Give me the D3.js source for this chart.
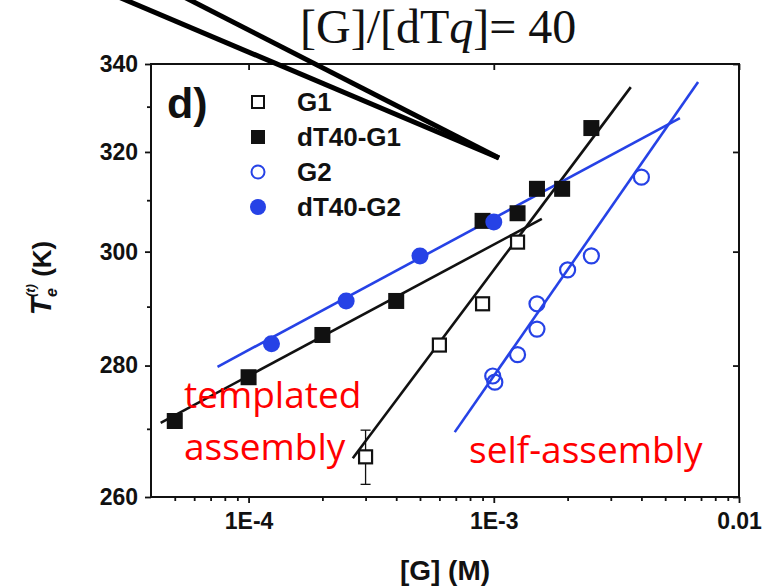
<!DOCTYPE html>
<html>
<head>
<meta charset="utf-8">
<script src="https://cdn.jsdelivr.net/npm/d3@7"></script>
<style>
  body { margin: 0; background: #fff; }
  svg { display: block; }
</style>
</head>
<body>
<div id="chart"></div>
<script>
// data, [G] in M, Te in K
const g1X = [3e-4, 6e-4, 9e-4, 1.25e-3];
const g1T = [265.8, 283.4, 290.5, 301.8];
const g1Err = [4, 0, 0, 0];

const dtG1X = [5e-5, 1e-4, 2e-4, 4e-4, 9e-4, 1.25e-3, 1.5e-3, 1.9e-3, 2.5e-3];
const dtG1T = [271.2, 278.1, 285.1, 291.0, 305.9, 307.4, 312.3, 312.3, 325.2];
const dtG1Err = [0.9, 0.8, 0.7, 0, 0, 0, 0, 0, 0];

const g2X = [0.99e-3, 1.01e-3, 1.25e-3, 1.5e-3, 1.5e-3, 2.0e-3, 2.5e-3, 4.0e-3];
const g2T = [278.3, 277.3, 281.8, 286.1, 290.5, 296.6, 299.2, 314.7];

const dtG2X = [1.24e-4, 2.5e-4, 5e-4, 1e-3];
const dtG2T = [283.6, 291.0, 299.2, 305.7];

// linear fits (end points)
const fitTemplG1 = [[4.38e-5, 270.9], [1.57e-3, 306.3]];
const fitSelfG1 = [[2.66e-4, 265.6], [3.62e-3, 334.5]];
const fitTemplG2 = [[7.47e-5, 279.8], [5.74e-3, 327.4]];
const fitSelfG2 = [[6.93e-4, 269.5], [6.81e-3, 335.7]];

// pointer wedge to the [G]/[dTq] note
const pointerTip = [1.05e-3, 318.7];
const pointerTails = [[2.52e-5, 358.9], [4.79e-5, 358.9]];

const xMajor = [1e-4, 1e-3, 1e-2];
const xMajorLabels = ["1E-4", "1E-3", "0.01"];
const xMinor = [5e-5, 6e-5, 7e-5, 8e-5, 9e-5,
  2e-4, 3e-4, 4e-4, 5e-4, 6e-4, 7e-4, 8e-4, 9e-4,
  2e-3, 3e-3, 4e-3, 5e-3, 6e-3, 7e-3, 8e-3, 9e-3];
const yMajor = [260, 280, 300, 320, 340];
const yMinor = [270, 290, 310, 330];

const legendNames = ["G1", "dT40-G1", "G2", "dT40-G2"];

const W = 783, H = 587;
const blue = "#2642e6";

const svg = d3.select("#chart").append("svg")
    .attr("width", W)
    .attr("height", H);

const x = d3.scaleLog().domain([4e-5, 1e-2]).range([151, 739]);
// y axis is linear in 1/T
const y = d3.scalePow().exponent(-1).domain([260, 340]).range([497, 64]);

// axes
const axisB = svg.append("g").attr("transform", `translate(0,${y(260)})`);
axisB.call(d3.axisBottom(x).tickValues(xMinor).tickSize(4).tickFormat(""));
axisB.append("g").call(d3.axisBottom(x).tickValues(xMajor).tickSize(6).tickPadding(10)
    .tickFormat((d, i) => xMajorLabels[i]));

svg.append("g").attr("transform", `translate(0,${y(340)})`)
    .call(d3.axisBottom(x).tickValues(xMajor).tickSize(6).tickFormat(""));

const axisL = svg.append("g").attr("transform", `translate(${x(4e-5)},0)`);
axisL.call(d3.axisLeft(y).tickValues(yMinor).tickSize(4).tickFormat(""));
axisL.append("g").call(d3.axisLeft(y).tickValues(yMajor).tickSize(6).tickPadding(7)
    .tickFormat(d3.format("d")));

svg.append("g").attr("transform", `translate(${x(1e-2)},0)`)
    .call(d3.axisLeft(y).tickValues(yMajor).tickSize(6).tickFormat(""));

svg.selectAll(".domain").remove();
svg.selectAll(".tick line").attr("stroke", "#111").attr("stroke-width", 1.8);
svg.selectAll(".tick text")
    .attr("fill", "#111")
    .style("font-family", "'Liberation Sans', Arial, sans-serif")
    .style("font-weight", "bold")
    .style("font-size", "23px");

svg.append("rect")
    .attr("x", x(4e-5)).attr("y", y(340))
    .attr("width", x(1e-2) - x(4e-5)).attr("height", y(260) - y(340))
    .attr("fill", "none").attr("stroke", "#111").attr("stroke-width", 2);

// axis titles
svg.append("text")
    .attr("x", (x(4e-5) + x(1e-2)) / 2).attr("y", 580)
    .attr("text-anchor", "middle")
    .style("font-family", "'Liberation Sans', Arial, sans-serif")
    .style("font-weight", "bold").style("font-size", "28px")
    .attr("fill", "#111")
    .text("[G] (M)");

const yt = svg.append("text")
    .attr("transform", "translate(51,278) rotate(-90)")
    .attr("text-anchor", "middle")
    .style("font-family", "'Liberation Sans', Arial, sans-serif")
    .style("font-weight", "bold")
    .attr("fill", "#111");
yt.append("tspan").style("font-style", "italic").style("font-size", "30px").text("T");
yt.append("tspan").style("font-style", "italic").style("font-size", "16px").attr("dy", 6).text("e");
yt.append("tspan").style("font-style", "italic").style("font-size", "13px").attr("dx", -9).attr("dy", -22).text("(t)");
yt.append("tspan").style("font-size", "26px").attr("dy", 16).text(" (K)");

// fit lines
const line = d3.line().x(d => x(d[0])).y(d => y(d[1]));
const fits = [
  { pts: fitTemplG1, color: "#111" },
  { pts: fitSelfG1, color: "#111" },
  { pts: fitTemplG2, color: blue },
  { pts: fitSelfG2, color: blue }
];
svg.append("g").selectAll("path")
    .data(fits)
    .enter().append("path")
    .attr("d", d => line(d.pts))
    .attr("fill", "none")
    .attr("stroke", d => d.color)
    .attr("stroke-width", 2.6);

// error bars
function errorBars(xs, ts, errs) {
  const rows = xs.map((v, i) => ({ x: v, t: ts[i], e: errs[i] })).filter(d => d.e > 0);
  const g = svg.append("g").attr("stroke", "#111").attr("stroke-width", 1.3);
  rows.forEach(d => {
    const cx = x(d.x);
    g.append("line").attr("x1", cx).attr("x2", cx).attr("y1", y(d.t - d.e)).attr("y2", y(d.t + d.e));
    g.append("line").attr("x1", cx - 5).attr("x2", cx + 5).attr("y1", y(d.t - d.e)).attr("y2", y(d.t - d.e));
    g.append("line").attr("x1", cx - 5).attr("x2", cx + 5).attr("y1", y(d.t + d.e)).attr("y2", y(d.t + d.e));
  });
}
errorBars(g1X, g1T, g1Err);
errorBars(dtG1X, dtG1T, dtG1Err);

// markers
function squares(xs, ts, size, fill, stroke, sw) {
  svg.append("g").selectAll("rect")
      .data(xs.map((v, i) => [v, ts[i]]))
      .enter().append("rect")
      .attr("x", d => x(d[0]) - size / 2)
      .attr("y", d => y(d[1]) - size / 2)
      .attr("width", size).attr("height", size)
      .attr("fill", fill).attr("stroke", stroke).attr("stroke-width", sw);
}
function circles(xs, ts, r, fill, stroke, sw) {
  svg.append("g").selectAll("circle")
      .data(xs.map((v, i) => [v, ts[i]]))
      .enter().append("circle")
      .attr("cx", d => x(d[0]))
      .attr("cy", d => y(d[1]))
      .attr("r", r)
      .attr("fill", fill).attr("stroke", stroke).attr("stroke-width", sw);
}
squares(g1X, g1T, 13, "#fff", "#111", 2.2);
squares(dtG1X, dtG1T, 16, "#111", "none", 0);
circles(g2X, g2T, 7.5, "none", blue, 2.2);
circles(dtG2X, dtG2T, 8.5, blue, "none", 0);

// legend
const legend = svg.append("g");
const legRowY = [102, 137, 172, 207];
const legMarkX = 258;
legend.append("rect").attr("x", legMarkX - 6).attr("y", legRowY[0] - 6).attr("width", 12).attr("height", 12)
    .attr("fill", "#fff").attr("stroke", "#111").attr("stroke-width", 2);
legend.append("rect").attr("x", legMarkX - 7).attr("y", legRowY[1] - 7).attr("width", 14).attr("height", 14)
    .attr("fill", "#111");
legend.append("circle").attr("cx", legMarkX).attr("cy", legRowY[2]).attr("r", 6.5)
    .attr("fill", "none").attr("stroke", blue).attr("stroke-width", 2);
legend.append("circle").attr("cx", legMarkX).attr("cy", legRowY[3]).attr("r", 8)
    .attr("fill", blue);
legend.selectAll("text")
    .data(legendNames)
    .enter().append("text")
    .attr("x", 297)
    .attr("y", (d, i) => legRowY[i] + 9)
    .style("font-family", "'Liberation Sans', Arial, sans-serif")
    .style("font-weight", "bold").style("font-size", "26px")
    .attr("fill", "#111")
    .text(d => d);

// panel letter
svg.append("text")
    .attr("x", 167).attr("y", 118)
    .style("font-family", "'Liberation Sans', Arial, sans-serif")
    .style("font-weight", "bold").style("font-size", "43px")
    .attr("fill", "#111")
    .text("d)");

// red annotations
const red = svg.append("g")
    .style("font-family", "'Open Sans', sans-serif")
    .style("font-size", "37px")
    .attr("fill", "#ff0000");
red.append("text").attr("x", 184).attr("y", 408).text("templated");
red.append("text").attr("x", 184).attr("y", 460).text("assembly");
red.append("text").attr("x", 469).attr("y", 463).text("self-assembly");

// pointer lines and note
svg.append("g").selectAll("line")
    .data(pointerTails)
    .enter().append("line")
    .attr("x1", d => x(d[0])).attr("y1", d => y(d[1]))
    .attr("x2", x(pointerTip[0])).attr("y2", y(pointerTip[1]))
    .attr("stroke", "#000").attr("stroke-width", 5);

const note = svg.append("text")
    .attr("x", 300).attr("y", 43)
    .style("font-family", "'Liberation Serif', 'Times New Roman', serif")
    .style("font-size", "48px")
    .attr("fill", "#111");
note.append("tspan").text("[G]/[dT");
note.append("tspan").style("font-style", "italic").text("q");
note.append("tspan").text("]= 40");
</script>
</body>
</html>
